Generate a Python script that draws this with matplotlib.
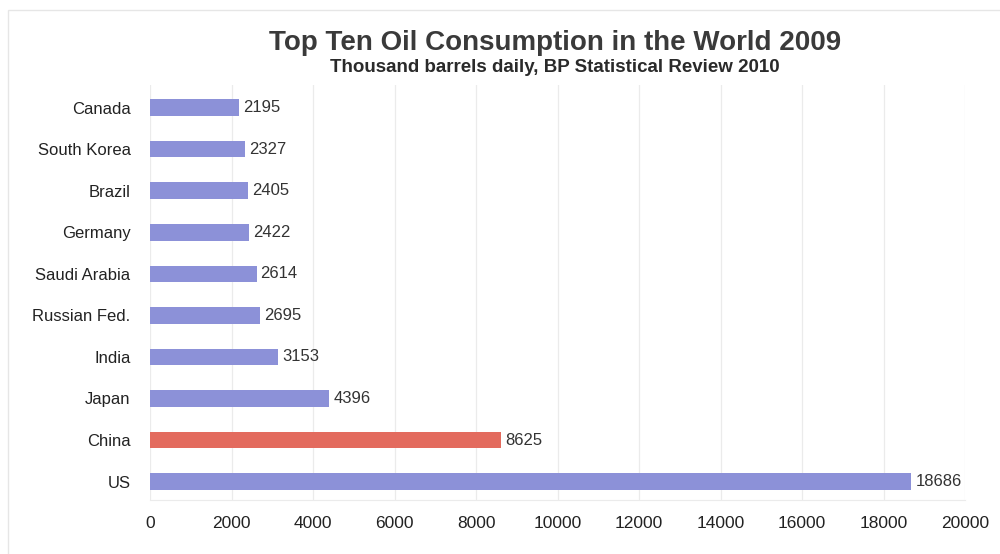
import matplotlib
matplotlib.use("Agg")
import matplotlib.pyplot as plt
from matplotlib.patches import Rectangle

countries = ["US", "China", "Japan", "India", "Russian Fed.", "Saudi Arabia",
             "Germany", "Brazil", "South Korea", "Canada"]
consumption = [18686, 8625, 4396, 3153, 2695, 2614, 2422, 2405, 2327, 2195]
highlight = "China"
x_ticks = [0, 2000, 4000, 6000, 8000, 10000, 12000, 14000, 16000, 18000, 20000]

plt.rcParams["font.family"] = ["Liberation Sans", "DejaVu Sans"]

blue = "#8c91d8"
red = "#e36b5e"
colors = [red if c == highlight else blue for c in countries]

fig = plt.figure(figsize=(10, 5.54), dpi=100)
ax = fig.add_axes([0.150, 0.097, 0.815, 0.750])

y = range(len(countries))
ax.barh(y, consumption, height=0.4, color=colors, zorder=3)
for yi, v in zip(y, consumption):
    ax.text(v + 100, yi, f"{v}", va="center", ha="left", fontsize=12,
            color="#333333", zorder=4)

ax.set_xlim(0, 20000)
ax.set_ylim(-0.45, len(countries) - 0.45)
ax.set_yticks(list(y))
ax.set_yticklabels(countries, fontsize=12, color="#222222")
ax.set_xticks(x_ticks)
ax.set_xticklabels([str(t) for t in x_ticks], fontsize=12.5, color="#222222")
ax.tick_params(axis="both", length=0)
ax.tick_params(axis="y", pad=14)
ax.tick_params(axis="x", pad=11)

ax.grid(axis="x", color="#ebebeb", linewidth=0.9, zorder=0)
for s in ["top", "right", "left"]:
    ax.spines[s].set_visible(False)
ax.spines["bottom"].set_color("#ebebeb")

fig.text(0.555, 0.922, "Top Ten Oil Consumption in the World 2009",
         ha="center", va="center", fontsize=20, fontweight="bold", color="#3a3a3a")
fig.text(0.555, 0.879, "Thousand barrels daily, BP Statistical Review 2010",
         ha="center", va="center", fontsize=13.5, fontweight="bold", color="#2a2a2a")

fig.patches.append(Rectangle((0.008, -0.05), 1.2, 1.032, transform=fig.transFigure,
                             fill=False, edgecolor="#e6e6e6", linewidth=1.0))

fig.savefig("out.png", dpi=100, facecolor="white")
